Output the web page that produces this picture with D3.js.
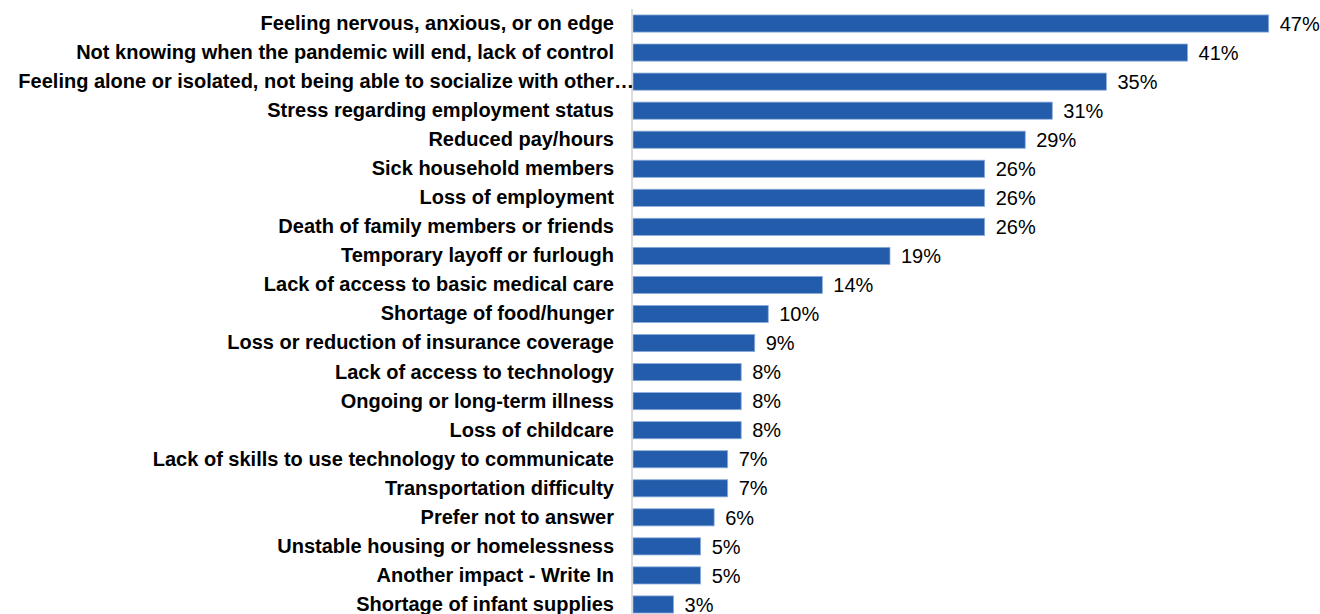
<!DOCTYPE html>
<html>
<head>
<meta charset="utf-8">
<script src="https://cdn.jsdelivr.net/npm/d3@7"></script>
<style>
  html, body { margin: 0; padding: 0; background: #fff; }
  svg { display: block; }
</style>
</head>
<body>
<svg id="chart" width="1320" height="614"></svg>
<script>
// Reported impacts of the pandemic (share of respondents, %)
const categories = [
  "Feeling nervous, anxious, or on edge",
  "Not knowing when the pandemic will end, lack of control",
  "Feeling alone or isolated, not being able to socialize with other\u2026",
  "Stress regarding employment status",
  "Reduced pay/hours",
  "Sick household members",
  "Loss of employment",
  "Death of family members or friends",
  "Temporary layoff or furlough",
  "Lack of access to basic medical care",
  "Shortage of food/hunger",
  "Loss or reduction of insurance coverage",
  "Lack of access to technology",
  "Ongoing or long-term illness",
  "Loss of childcare",
  "Lack of skills to use technology to communicate",
  "Transportation difficulty",
  "Prefer not to answer",
  "Unstable housing or homelessness",
  "Another impact - Write In",
  "Shortage of infant supplies"
];
const values = [47, 41, 35, 31, 29, 26, 26, 26, 19, 14, 10, 9, 8, 8, 8, 7, 7, 6, 5, 5, 3];

const svg = d3.select("#chart");
const x0 = 633;
const font = "'Liberation Sans', Arial, sans-serif";

const x = d3.scaleLinear().domain([0, 47]).range([x0, 1268.7]);
const y = d3.scaleBand()
  .domain(categories)
  .range([9, 619])
  .paddingInner(0.41)
  .paddingOuter(0.205);

// bars
svg.append("g").selectAll("rect")
  .data(values)
  .join("rect")
  .attr("x", x(0))
  .attr("y", (d, i) => y(categories[i]))
  .attr("width", d => x(d) - x(0))
  .attr("height", y.bandwidth())
  .attr("fill", "#225cab")
  .attr("stroke", "#8eaedb")
  .attr("stroke-width", 0.8);

// vertical category axis
const yAxis = d3.axisLeft(y).tickSize(0).tickPadding(18);
const gAxis = svg.append("g")
  .attr("transform", `translate(${x0 - 1},0)`)
  .call(yAxis);
gAxis.select(".domain")
  .attr("stroke", "#d0d0d0")
  .attr("stroke-width", 1.5)
  .attr("d", `M0,9V619`);
gAxis.selectAll("text")
  .attr("fill", "#000")
  .attr("font-family", font)
  .attr("font-weight", "bold")
  .attr("font-size", 20);
// the truncated label runs up to the axis line
gAxis.selectAll(".tick text")
  .filter(d => d.endsWith("\u2026"))
  .attr("x", 2);

// value labels
svg.append("g").selectAll("text")
  .data(values)
  .join("text")
  .attr("x", d => x(d) + 11)
  .attr("y", (d, i) => y(categories[i]) + y.bandwidth() / 2)
  .attr("dy", "0.36em")
  .attr("font-family", font)
  .attr("font-size", 20)
  .attr("fill", "#000")
  .text(d => d + "%");
</script>
</body>
</html>
